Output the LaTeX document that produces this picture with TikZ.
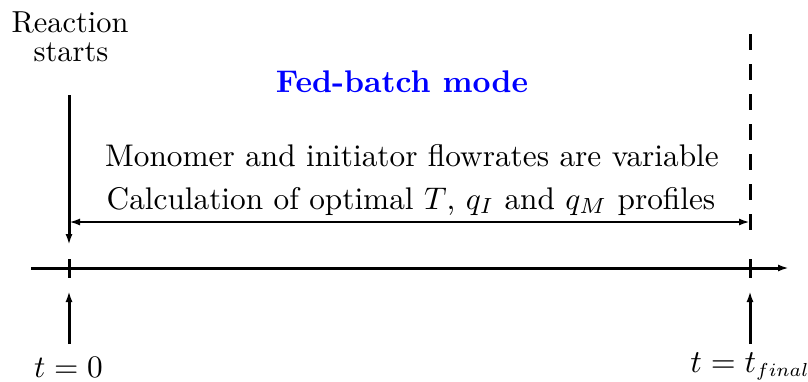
\documentclass[tikz,border=0pt]{standalone}
\usepackage{graphicx}
\usetikzlibrary{arrows.meta}
\newcommand{\bigtxt}[1]{\scalebox{1.565}{#1}}
\newcommand{\smtxt}[1]{\scalebox{1.52}{#1}}
\begin{document}
\begin{tikzpicture}[x=0.5pt,y=-0.5pt,
  line/.style={line width=1.5pt},
  tip/.style={-{Latex[length=5.5pt,width=3.5pt]}},
  lbl/.style={inner sep=0pt,anchor=base}]
\useasboundingbox (0,0) rectangle (808,381);
% coordinates
\coordinate (lt) at (69,95);
\coordinate (lb) at (69,245);
\coordinate (ax0) at (31,268);
\coordinate (ax1) at (789,268);
\coordinate (tk0) at (69,259);
\coordinate (tk1) at (69,278);
\coordinate (ub0) at (69,344);
\coordinate (ub1) at (69,291);
\coordinate (rt) at (750,34);
\coordinate (rb) at (750,231);
\coordinate (rk0) at (750,259);
\coordinate (rk1) at (750,278);
\coordinate (rub0) at (750,344);
\coordinate (rub1) at (750,291);
\coordinate (da) at (69,222);
\coordinate (db) at (750,222);
% texts
\node[lbl] (rs1) at (70,32) {\smtxt{Reaction}};
\node[lbl] (rs2) at (71,61) {\smtxt{starts}};
\node[lbl,text=blue] (fb) at (402,92) {\bigtxt{\bfseries Fed-batch mode}};
\node[lbl] (l1) at (412,166) {\bigtxt{Monomer and initiator flowrates are variable}};
\node[lbl] (l2) at (411,209) {\bigtxt{Calculation of optimal $T$, $q_I$ and $q_M$ profiles}};
\node[lbl] (t0) at (68.5,377) {\bigtxt{$t=0$}};
\node[lbl,anchor=base west] (tf) at (690,372) {\scalebox{1.6}{$t=t_{\scalebox{0.84}{$\scriptstyle final$}}$}};
% lines
\draw[line,tip] (lt) -- (lb);
\draw[line,tip] (ax0) -- (ax1);
\draw[line] (tk0) -- (tk1);
\draw[line,tip] (ub0) -- (ub1);
\draw[line,dash pattern=on 8pt off 7pt] (rt) -- (rb);
\draw[line] (rk0) -- (rk1);
\draw[line,tip] (rub0) -- (rub1);
\draw[line width=1.4pt,{Latex[length=5.5pt,width=3.5pt]}-{Latex[length=5.5pt,width=3.5pt]}] (da) -- (db);
\end{tikzpicture}
\end{document}
